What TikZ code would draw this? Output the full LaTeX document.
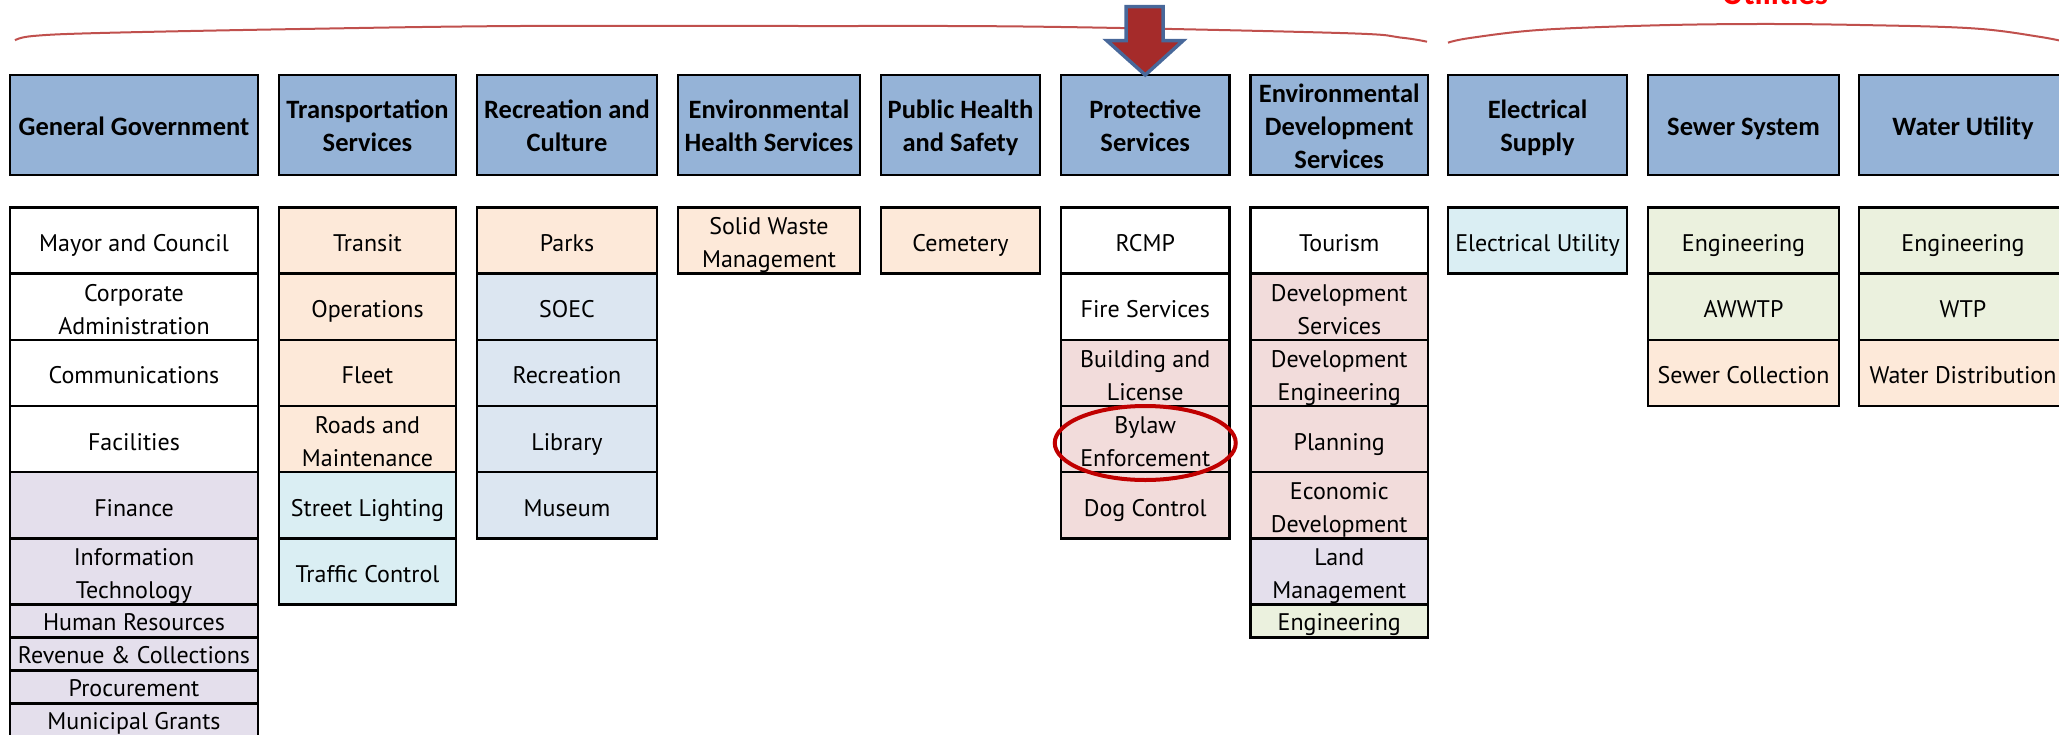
\documentclass[tikz,border=0pt]{standalone}
\usepackage{fontspec}
\usepackage{array}
\newfontfamily\hdrfamily{Carlito}
\newfontfamily\cellfamily{PT Sans}
\definecolor{hdrblue}{HTML}{95B3D7}
\definecolor{peach}{HTML}{FDE9D9}
\definecolor{paleblue}{HTML}{DCE6F1}
\definecolor{paleaqua}{HTML}{DAEEF3}
\definecolor{lavender}{HTML}{E4DFEC}
\definecolor{palerose}{HTML}{F2DCDB}
\definecolor{paleolive}{HTML}{EBF1DE}
\definecolor{bracered}{HTML}{C0504D}
\definecolor{ringred}{HTML}{C00000}
\definecolor{arrowfill}{HTML}{A52B2A}
\definecolor{arrowedge}{HTML}{48689A}
% every text line sits in a fixed 33pt line box
\def\celldepth{5.5pt}
\newcommand\cellstrut{\rule[-\celldepth]{0pt}{33pt}}
\newcommand\hdrstrut{\rule[-6.5pt]{0pt}{33pt}}
\newcommand\hl[1]{{\renewcommand\arraystretch{0}\begin{tabular}{@{}>{\hdrstrut}c@{}}#1\end{tabular}}}
\newcommand\cl[1]{{\renewcommand\arraystretch{0}\begin{tabular}{@{}>{\cellstrut}c@{}}#1\end{tabular}}}
\begin{document}
\begin{tikzpicture}[x=1pt,y=-1pt,
  hdr/.style={draw=black, line width=2.6pt, fill=hdrblue, minimum height=100,
    inner sep=0pt, outer sep=0pt, anchor=north,
    font=\hdrfamily\bfseries\fontsize{26.5}{33}\selectfont},
  cell/.style={draw=black, line width=2.4pt, minimum height=66.2,
    inner sep=0pt, outer sep=0pt, anchor=north,
    font=\cellfamily\fontsize{24}{33}\selectfont},
  thin/.style={cell, minimum height=33, execute at begin node={\def\celldepth{7pt}}},
  wa/.style={minimum width=248}, wb/.style={minimum width=177},
  wc/.style={minimum width=180}, wd/.style={minimum width=182},
  we/.style={minimum width=159}, wf/.style={minimum width=168.5},
  wg/.style={minimum width=177.5}, wh/.style={minimum width=179},
  wi/.style={minimum width=191}, wj/.style={minimum width=208},
  bracket/.style={draw=bracered, line width=2pt},
  ring/.style={draw=ringred, line width=4pt},
  bigarrow/.style={draw=arrowedge, fill=arrowfill, line width=3.5pt, line join=miter}]
\useasboundingbox (0,0) rectangle (2059,734);

% department headers
\node[hdr,wa] (general) at (134,75) {\hl{General Government}};
\node[hdr,wb] (transp) at (367.5,75) {\hl{Transportation\\Services}};
\node[hdr,wc] (recr) at (567,75) {\hl{Recreation and\\Culture}};
\node[hdr,wd] (envh) at (769,75) {\hl{Environmental\\Health Services}};
\node[hdr,we] (pubh) at (960.5,75) {\hl{Public Health\\and Safety}};
\node[hdr,wf] (prot) at (1145.25,75) {\hl{Protective\\Services}};
\node[hdr,wg] (envd) at (1339.25,75) {\hl{Environmental\\Development\\Services}};
\node[hdr,wh] (elec) at (1537.5,75) {\hl{Electrical\\Supply}};
\node[hdr,wi] (sewer) at (1743.5,75) {\hl{Sewer System}};
\node[hdr,wj] (water) at (1963,75) {\hl{Water Utility}};

% General Government
\node[cell,wa] (gg1) at (134,207.3) {\cl{Mayor and Council}};
\node[cell,wa] (gg2) at (134,273.5) {\cl{Corporate\\Administration}};
\node[cell,wa] (gg3) at (134,339.7) {\cl{Communications}};
\node[cell,wa] (gg4) at (134,405.9) {\cl{Facilities}};
\node[cell,wa,fill=lavender] (gg5) at (134,472.1) {\cl{Finance}};
\node[cell,wa,fill=lavender] (gg6) at (134,538.3) {\cl{Information\\Technology}};
\node[thin,wa,fill=lavender] (gg7) at (134,604.5) {\cl{Human Resources}};
\node[thin,wa,fill=lavender] (gg8) at (134,637.5) {\cl{Revenue \& Collections}};
\node[thin,wa,fill=lavender] (gg9) at (134,670.5) {\cl{Procurement}};
\node[thin,wa,fill=lavender] (gg10) at (134,703.5) {\cl{Municipal Grants}};

% Transportation Services
\node[cell,wb,fill=peach] (tr1) at (367.5,207.3) {\cl{Transit}};
\node[cell,wb,fill=peach] (tr2) at (367.5,273.5) {\cl{Operations}};
\node[cell,wb,fill=peach] (tr3) at (367.5,339.7) {\cl{Fleet}};
\node[cell,wb,fill=peach] (tr4) at (367.5,405.9) {\cl{Roads and\\Maintenance}};
\node[cell,wb,fill=paleaqua] (tr5) at (367.5,472.1) {\cl{Street Lighting}};
\node[cell,wb,fill=paleaqua] (tr6) at (367.5,538.3) {\cl{Traffic Control}};

% Recreation and Culture
\node[cell,wc,fill=peach] (rc1) at (567,207.3) {\cl{Parks}};
\node[cell,wc,fill=paleblue] (rc2) at (567,273.5) {\cl{SOEC}};
\node[cell,wc,fill=paleblue] (rc3) at (567,339.7) {\cl{Recreation}};
\node[cell,wc,fill=paleblue] (rc4) at (567,405.9) {\cl{Library}};
\node[cell,wc,fill=paleblue] (rc5) at (567,472.1) {\cl{Museum}};

% Environmental Health Services
\node[cell,wd,fill=peach] (eh1) at (769,207.3) {\cl{Solid Waste\\Management}};

% Public Health and Safety
\node[cell,we,fill=peach] (ph1) at (960.5,207.3) {\cl{Cemetery}};

% Protective Services
\node[cell,wf] (ps1) at (1145.25,207.3) {\cl{RCMP}};
\node[cell,wf] (ps2) at (1145.25,273.5) {\cl{Fire Services}};
\node[cell,wf,fill=palerose] (ps3) at (1145.25,339.7) {\cl{Building and\\License}};
\node[cell,wf,fill=palerose] (bylaw) at (1145.25,405.9) {\cl{Bylaw\\Enforcement}};
\node[cell,wf,fill=palerose] (ps5) at (1145.25,472.1) {\cl{Dog Control}};

% Environmental Development Services
\node[cell,wg] (ed1) at (1339.25,207.3) {\cl{Tourism}};
\node[cell,wg,fill=palerose] (ed2) at (1339.25,273.5) {\cl{Development\\Services}};
\node[cell,wg,fill=palerose] (ed3) at (1339.25,339.7) {\cl{Development\\Engineering}};
\node[cell,wg,fill=palerose] (ed4) at (1339.25,405.9) {\cl{Planning}};
\node[cell,wg,fill=palerose] (ed5) at (1339.25,472.1) {\cl{Economic\\Development}};
\node[cell,wg,fill=lavender] (ed6) at (1339.25,538.3) {\cl{Land\\Management}};
\node[thin,wg,fill=paleolive] (ed7) at (1339.25,604.5) {\cl{Engineering}};

% Utilities
\node[cell,wh,fill=paleaqua] (el1) at (1537.5,207.3) {\cl{Electrical Utility}};
\node[cell,wi,fill=paleolive] (sw1) at (1743.5,207.3) {\cl{Engineering}};
\node[cell,wi,fill=paleolive] (sw2) at (1743.5,273.5) {\cl{AWWTP}};
\node[cell,wi,fill=peach] (sw3) at (1743.5,339.7) {\cl{Sewer Collection}};
\node[cell,wj,fill=paleolive] (wt1) at (1963,207.3) {\cl{Engineering}};
\node[cell,wj,fill=paleolive] (wt2) at (1963,273.5) {\cl{WTP}};
\node[cell,wj,fill=peach] (wt3) at (1963,339.7) {\cl{Water Distribution}};

% highlight ring around bylaw enforcement
\draw[ring] ([yshift=-4pt]bylaw.center) ellipse [x radius=90.5pt, y radius=37pt];

% group brackets
\draw[bracket] plot[smooth, tension=0.6] coordinates {(15,40.3) (33,36) (100,33) (300,29) (520,26) (800,26) (1040,26.7) (1340,33) (1400,37.5) (1427,41.7)};
\draw[bracket] plot[smooth, tension=0.6] coordinates {(1448,42.7) (1470,38) (1539,30) (1650,25.5) (1756,24) (1860,25) (1972,28.3) (2039,36.7) (2075,44)};
\node[anchor=base, text=red, inner sep=0pt, font=\hdrfamily\bfseries\fontsize{33}{40}\selectfont] (util) at (1775,4.7) {Utilities};

% pointer arrow onto Protective Services
\draw[bigarrow] (1126,6.7) -- (1163,6.7) -- (1163,40.7) -- (1183,40.7) -- (prot.north) -- (1107,40.7) -- (1126,40.7) -- cycle;
\end{tikzpicture}
\end{document}
